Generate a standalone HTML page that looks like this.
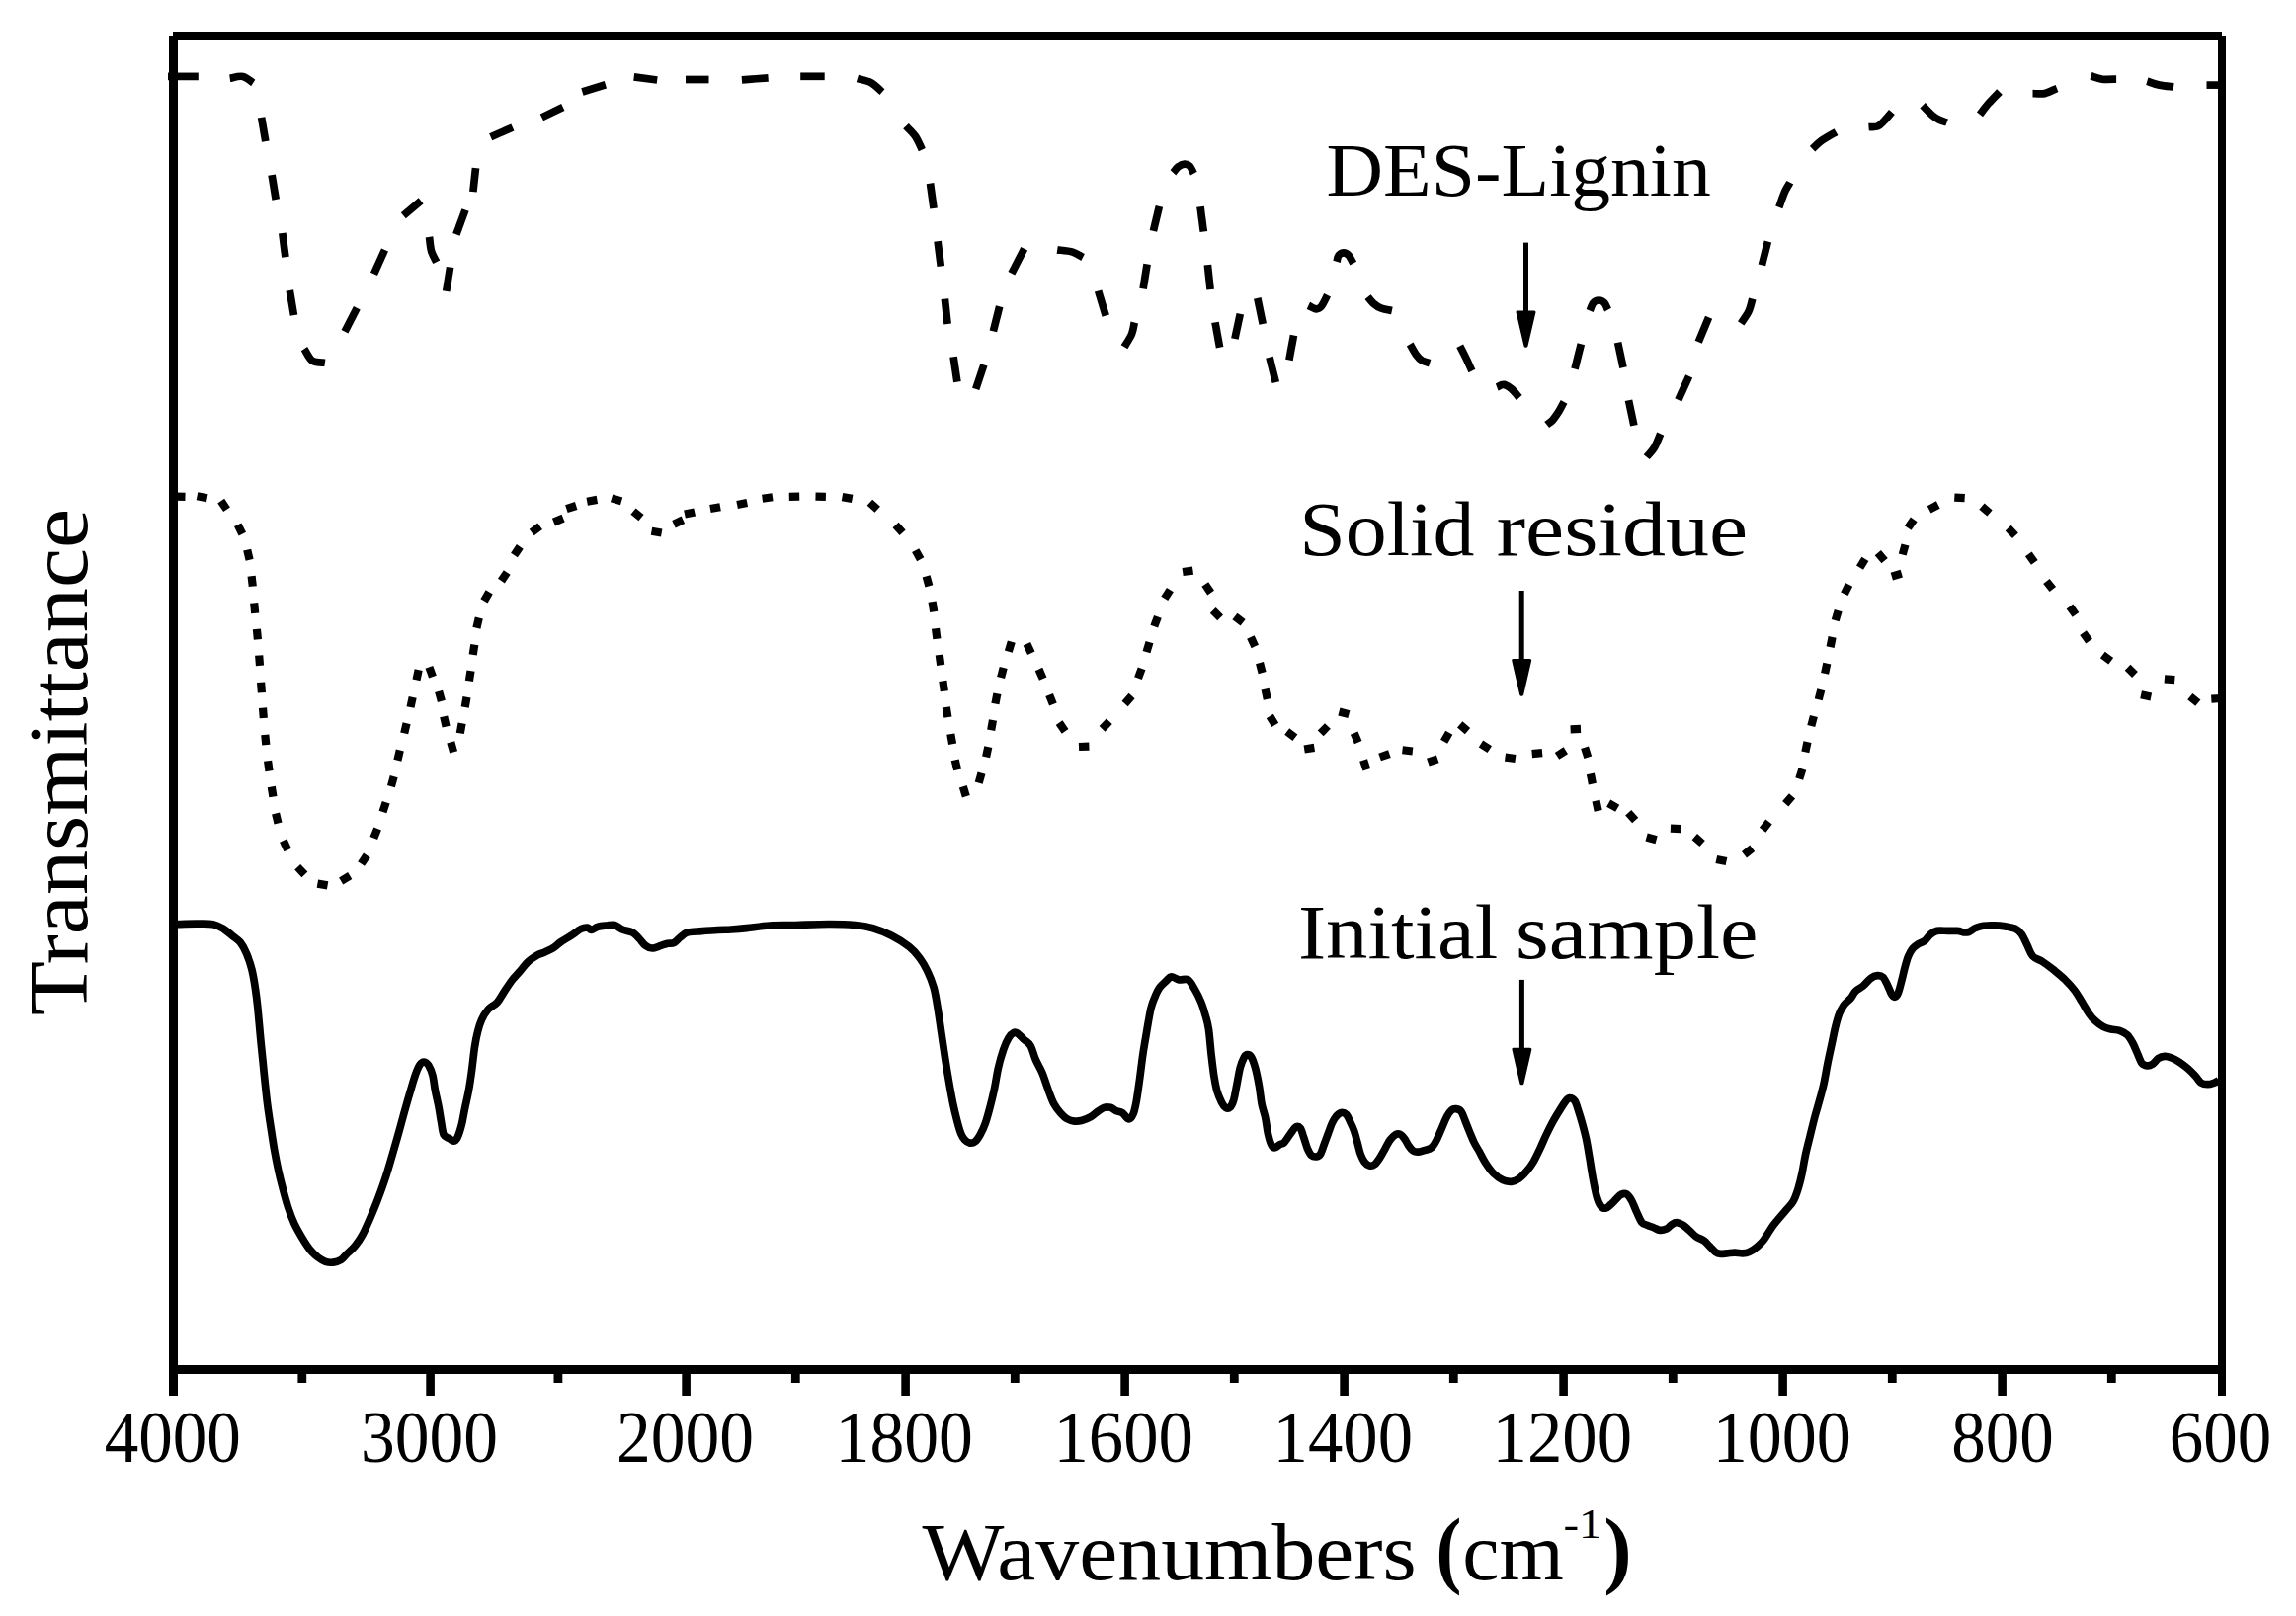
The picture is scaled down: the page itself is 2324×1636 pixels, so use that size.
<!DOCTYPE html>
<html lang="en"><head><meta charset="utf-8"><title>FTIR spectra</title>
<style>html,body{margin:0;padding:0;background:#fff}svg{display:block}text{font-family:"Liberation Serif",serif;fill:#000}</style>
</head><body>
<svg width="2324" height="1636" viewBox="0 0 2324 1636">
<rect width="2324" height="1636" fill="#fff"/>
<g fill="#000" shape-rendering="crispEdges">
<rect x="175" y="32" width="2074" height="9"/>
<rect x="171" y="1382" width="2082" height="9"/>
<rect x="171" y="36" width="9" height="1377"/>
<rect x="2245" y="36" width="8" height="1377"/>
</g>
<g fill="#000">
<rect x="431.3" y="1390" width="8.6" height="23"/>
<rect x="690.3" y="1390" width="8.6" height="23"/>
<rect x="912.3" y="1390" width="8.6" height="23"/>
<rect x="1134.3" y="1390" width="8.6" height="23"/>
<rect x="1356.3" y="1390" width="8.6" height="23"/>
<rect x="1578.3" y="1390" width="8.6" height="23"/>
<rect x="1800.3" y="1390" width="8.6" height="23"/>
<rect x="2022.3" y="1390" width="8.6" height="23"/>
<rect x="301.4" y="1390" width="8.8" height="10"/>
<rect x="560.5" y="1390" width="8.8" height="10"/>
<rect x="800.9" y="1390" width="8.8" height="10"/>
<rect x="1022.9" y="1390" width="8.8" height="10"/>
<rect x="1244.9" y="1390" width="8.8" height="10"/>
<rect x="1466.9" y="1390" width="8.8" height="10"/>
<rect x="1688.9" y="1390" width="8.8" height="10"/>
<rect x="1910.9" y="1390" width="8.8" height="10"/>
<rect x="2132.9" y="1390" width="8.8" height="10"/>
</g>
<path d="M179.7,935.7C182.9,935.6 192.7,935.2 198.7,935.2C204.7,935.2 211.1,934.8 215.7,935.7C220.3,936.6 222.9,938.4 226.2,940.4C229.5,942.4 232.5,945.2 235.3,947.5C238.1,949.8 240.8,951.0 243.2,954.0C245.6,957.0 247.8,961.2 249.7,965.8C251.6,970.4 253.5,975.8 254.9,981.5C256.3,987.2 257.3,993.3 258.3,999.8C259.3,1006.3 260.1,1012.9 260.9,1020.7C261.7,1028.5 262.5,1038.1 263.3,1046.8C264.1,1055.5 265.1,1065.1 265.9,1072.9C266.7,1080.7 267.2,1086.4 268.0,1093.8C268.8,1101.2 269.6,1109.6 270.6,1117.4C271.6,1125.2 272.8,1133.1 274.0,1140.9C275.2,1148.7 276.4,1157.0 277.7,1164.4C279.0,1171.8 280.4,1178.8 281.8,1185.3C283.2,1191.8 284.7,1197.5 286.3,1203.6C287.9,1209.7 289.6,1216.0 291.5,1221.9C293.4,1227.8 295.6,1233.7 298.0,1238.9C300.4,1244.1 303.3,1248.9 305.9,1253.2C308.5,1257.5 311.1,1261.7 313.7,1265.0C316.3,1268.3 319.0,1270.8 321.6,1272.8C324.2,1274.8 326.8,1276.4 329.4,1277.3C332.0,1278.2 334.6,1278.4 337.2,1278.1C339.8,1277.8 342.7,1277.0 345.1,1275.5C347.5,1274.0 349.2,1271.3 351.6,1268.9C354.0,1266.5 356.9,1264.4 359.5,1261.1C362.1,1257.8 364.7,1254.1 367.3,1249.3C369.9,1244.5 372.5,1238.4 375.1,1232.3C377.7,1226.2 380.4,1219.7 383.0,1212.7C385.6,1205.7 388.4,1197.9 390.8,1190.5C393.2,1183.1 395.3,1175.5 397.4,1168.3C399.5,1161.1 401.4,1154.4 403.4,1147.4C405.3,1140.4 407.2,1133.5 409.1,1126.5C411.1,1119.5 413.2,1111.9 415.1,1105.6C417.0,1099.3 418.7,1093.2 420.3,1088.6C421.9,1084.0 423.3,1080.5 424.8,1078.2C426.3,1075.9 427.7,1074.9 429.2,1075.0C430.7,1075.1 432.4,1076.4 433.9,1078.7C435.3,1081.0 436.8,1084.3 437.9,1088.6C439.0,1092.9 439.5,1099.1 440.5,1104.3C441.5,1109.5 442.9,1114.8 443.9,1120.0C444.9,1125.2 445.6,1130.8 446.5,1135.6C447.4,1140.4 447.7,1145.9 449.1,1148.7C450.5,1151.5 453.1,1151.5 454.8,1152.6C456.5,1153.7 457.9,1155.4 459.3,1155.2C460.7,1155.0 461.9,1154.1 463.2,1151.3C464.5,1148.5 466.2,1143.1 467.4,1138.3C468.6,1133.5 469.3,1128.3 470.5,1122.6C471.7,1116.9 473.2,1110.8 474.4,1104.3C475.6,1097.8 476.6,1090.8 477.6,1083.4C478.6,1076.0 479.5,1066.4 480.5,1059.9C481.5,1053.4 482.4,1048.8 483.6,1044.2C484.8,1039.6 485.8,1036.1 487.5,1032.4C489.2,1028.7 491.4,1024.9 494.0,1022.0C496.6,1019.1 500.6,1017.7 503.2,1014.9C505.8,1012.1 507.3,1008.6 509.7,1005.0C512.1,1001.4 514.8,996.9 517.6,993.2C520.4,989.5 523.9,986.1 526.7,982.8C529.5,979.5 531.7,976.2 534.5,973.6C537.3,971.0 540.9,968.7 543.7,967.1C546.5,965.5 548.7,965.3 551.5,964.0C554.3,962.7 558.1,961.0 560.7,959.3C563.3,957.6 564.4,956.0 567.2,954.0C570.0,952.0 574.2,949.8 577.7,947.5C581.2,945.2 585.3,941.8 588.1,940.4C590.9,939.0 593.0,938.9 594.7,939.1C596.5,939.3 596.9,941.6 598.6,941.5C600.3,941.4 602.5,939.0 605.1,938.3C607.7,937.5 611.5,937.3 614.3,937.0C617.1,936.7 619.5,935.8 622.1,936.5C624.7,937.2 626.9,939.7 629.9,941.0C632.9,942.3 637.6,942.6 640.4,944.1C643.2,945.6 644.7,947.9 646.9,950.1C649.1,952.3 651.2,955.8 653.4,957.4C655.6,959.0 657.4,960.0 660.0,960.0C662.6,960.0 666.5,958.2 669.1,957.4C671.7,956.6 673.5,955.8 675.7,955.3C677.9,954.8 680.0,955.6 682.2,954.5C684.4,953.4 686.5,950.5 688.7,948.8C690.9,947.1 692.5,945.1 695.3,944.1C698.1,943.1 700.5,943.4 705.7,943.0C710.9,942.6 720.9,941.8 726.6,941.5C732.3,941.2 735.1,941.3 740.0,941.0C744.9,940.7 749.2,940.4 755.7,939.7C762.2,939.0 770.9,937.5 779.2,937.0C787.5,936.5 795.3,936.8 805.3,936.5C815.3,936.2 829.3,935.5 839.3,935.5C849.3,935.5 858.0,935.8 865.4,936.5C872.8,937.2 877.6,938.0 883.7,939.7C889.8,941.5 895.9,943.9 902.0,947.0C908.1,950.1 915.5,954.7 920.3,958.5C925.1,962.3 927.8,965.7 930.8,969.7C933.8,973.8 936.2,977.8 938.6,982.8C941.0,987.8 943.4,993.5 945.1,999.8C946.9,1006.1 947.8,1012.9 949.1,1020.7C950.4,1028.5 951.7,1038.1 953.0,1046.8C954.3,1055.5 955.6,1064.6 956.9,1072.9C958.2,1081.2 959.5,1089.0 960.8,1096.4C962.1,1103.8 963.4,1111.1 964.7,1117.4C966.0,1123.7 967.4,1129.3 968.7,1134.3C970.0,1139.3 971.3,1144.1 972.6,1147.4C973.9,1150.7 975.0,1152.3 976.5,1153.9C978.0,1155.5 980.0,1156.8 981.7,1157.1C983.5,1157.4 985.2,1157.2 987.0,1155.8C988.8,1154.4 990.5,1151.8 992.2,1148.7C993.9,1145.6 995.7,1142.0 997.4,1137.0C999.1,1132.0 1001.1,1124.6 1002.6,1118.7C1004.1,1112.8 1005.3,1108.0 1006.6,1101.7C1007.9,1095.4 1009.0,1087.3 1010.5,1080.8C1012.0,1074.3 1014.0,1067.5 1015.7,1062.5C1017.4,1057.5 1019.2,1053.5 1020.9,1050.7C1022.6,1047.9 1024.6,1046.2 1026.1,1045.5C1027.6,1044.8 1028.3,1045.1 1030.1,1046.3C1031.8,1047.5 1034.4,1050.5 1036.6,1052.5C1038.8,1054.5 1041.1,1055.2 1043.1,1058.6C1045.1,1062.0 1046.4,1068.3 1048.4,1072.9C1050.4,1077.5 1052.7,1080.8 1054.9,1086.0C1057.1,1091.2 1059.4,1099.1 1061.4,1104.3C1063.4,1109.5 1064.7,1113.7 1066.7,1117.4C1068.7,1121.1 1071.0,1124.0 1073.2,1126.5C1075.4,1129.0 1077.3,1131.1 1079.7,1132.5C1082.1,1133.9 1085.0,1134.8 1087.6,1135.1C1090.2,1135.4 1092.6,1135.1 1095.4,1134.3C1098.2,1133.5 1101.9,1131.9 1104.5,1130.4C1107.1,1128.9 1108.9,1126.7 1111.1,1125.2C1113.3,1123.7 1115.4,1122.0 1117.6,1121.3C1119.8,1120.6 1122.1,1120.8 1124.1,1121.3C1126.1,1121.8 1127.4,1123.5 1129.4,1124.4C1131.4,1125.3 1133.7,1125.1 1135.9,1126.5C1138.1,1127.9 1140.5,1132.8 1142.4,1133.0C1144.3,1133.2 1145.8,1130.8 1147.1,1127.8C1148.4,1124.8 1149.2,1120.4 1150.3,1114.7C1151.3,1109.0 1152.3,1101.6 1153.4,1093.8C1154.5,1086.0 1155.6,1076.0 1156.8,1067.7C1158.0,1059.4 1159.4,1051.8 1160.7,1044.2C1162.0,1036.6 1163.4,1027.7 1164.7,1022.0C1166.0,1016.3 1167.1,1013.9 1168.6,1010.2C1170.1,1006.5 1171.8,1002.6 1173.8,999.8C1175.8,997.0 1178.3,995.0 1180.3,993.2C1182.3,991.4 1183.4,989.0 1185.6,988.8C1187.8,988.6 1190.6,991.4 1193.4,991.9C1196.2,992.4 1199.9,990.4 1202.5,991.9C1205.1,993.4 1206.9,997.4 1209.1,1001.1C1211.3,1004.8 1213.7,1009.5 1215.6,1014.1C1217.5,1018.7 1219.0,1023.9 1220.3,1028.5C1221.6,1033.1 1222.4,1035.1 1223.4,1041.6C1224.4,1048.1 1225.2,1059.9 1226.1,1067.7C1227.0,1075.5 1227.8,1082.5 1228.7,1088.6C1229.7,1094.7 1230.5,1099.7 1231.8,1104.3C1233.1,1108.9 1235.1,1113.2 1236.5,1116.0C1237.9,1118.8 1239.0,1120.4 1240.4,1121.3C1241.8,1122.2 1243.5,1122.6 1244.9,1121.3C1246.3,1120.0 1247.6,1117.6 1248.8,1113.4C1250.0,1109.2 1251.1,1101.8 1252.2,1096.4C1253.3,1091.0 1254.1,1085.2 1255.3,1080.8C1256.5,1076.4 1258.1,1072.5 1259.3,1070.3C1260.5,1068.1 1261.4,1067.7 1262.6,1067.7C1263.8,1067.7 1265.3,1068.1 1266.6,1070.3C1267.9,1072.5 1269.2,1076.0 1270.5,1080.8C1271.8,1085.6 1273.3,1093.0 1274.4,1099.1C1275.5,1105.2 1276.0,1112.0 1277.0,1117.4C1278.0,1122.8 1279.7,1126.5 1280.7,1131.5C1281.8,1136.5 1282.3,1142.6 1283.3,1147.1C1284.3,1151.6 1285.5,1156.1 1286.7,1158.6C1287.9,1161.1 1288.8,1162.0 1290.3,1162.0C1291.8,1162.0 1294.0,1159.5 1295.6,1158.6C1297.2,1157.7 1298.2,1158.5 1300.0,1156.6C1301.8,1154.7 1304.5,1150.0 1306.5,1147.4C1308.5,1144.8 1310.2,1141.8 1311.8,1140.9C1313.4,1140.0 1314.9,1140.5 1316.2,1142.2C1317.5,1143.9 1318.4,1147.8 1319.6,1151.3C1320.8,1154.8 1322.2,1160.0 1323.5,1163.1C1324.8,1166.1 1325.9,1168.3 1327.4,1169.6C1328.9,1170.9 1331.2,1171.1 1332.7,1170.9C1334.2,1170.7 1335.3,1170.5 1336.6,1168.3C1337.9,1166.1 1339.2,1161.4 1340.5,1157.9C1341.8,1154.4 1343.1,1150.9 1344.4,1147.4C1345.7,1143.9 1347.0,1139.8 1348.3,1137.0C1349.6,1134.2 1350.8,1132.2 1352.3,1130.4C1353.8,1128.7 1355.8,1126.8 1357.5,1126.5C1359.2,1126.2 1361.2,1126.8 1362.7,1128.3C1364.2,1129.8 1365.3,1132.8 1366.6,1135.6C1367.9,1138.3 1369.4,1141.3 1370.6,1144.8C1371.8,1148.3 1372.9,1152.7 1374.0,1156.6C1375.1,1160.5 1375.9,1165.0 1377.1,1168.3C1378.3,1171.5 1379.5,1174.1 1381.0,1176.1C1382.5,1178.1 1384.5,1179.6 1386.2,1180.1C1388.0,1180.5 1389.8,1180.1 1391.5,1178.8C1393.2,1177.5 1395.0,1174.8 1396.7,1172.2C1398.4,1169.6 1400.2,1166.1 1401.9,1163.1C1403.6,1160.0 1405.3,1156.3 1407.1,1153.9C1408.8,1151.5 1410.7,1149.7 1412.4,1148.7C1414.1,1147.8 1415.6,1147.6 1417.1,1148.2C1418.6,1148.8 1420.1,1150.8 1421.5,1152.6C1422.9,1154.4 1424.0,1157.2 1425.4,1159.2C1426.8,1161.2 1428.3,1163.7 1430.1,1164.9C1431.8,1166.1 1433.9,1166.3 1435.9,1166.2C1438.0,1166.1 1440.2,1165.1 1442.4,1164.4C1444.6,1163.7 1447.0,1163.5 1449.0,1161.8C1451.0,1160.0 1452.5,1157.2 1454.2,1153.9C1455.9,1150.6 1457.7,1146.1 1459.4,1142.2C1461.1,1138.3 1462.9,1133.5 1464.6,1130.4C1466.2,1127.4 1467.8,1125.2 1469.3,1123.9C1470.8,1122.6 1472.2,1122.4 1473.8,1122.6C1475.4,1122.8 1477.5,1123.2 1479.0,1125.2C1480.5,1127.2 1481.5,1130.8 1482.9,1134.3C1484.3,1137.8 1486.1,1142.4 1487.6,1146.1C1489.1,1149.8 1490.5,1153.3 1492.1,1156.6C1493.7,1159.9 1495.3,1162.2 1497.3,1165.7C1499.2,1169.2 1501.4,1173.8 1503.8,1177.5C1506.2,1181.2 1508.9,1185.1 1511.7,1187.9C1514.5,1190.7 1517.8,1193.0 1520.8,1194.4C1523.8,1195.8 1527.2,1196.5 1530.0,1196.3C1532.8,1196.1 1535.2,1194.9 1537.8,1193.1C1540.4,1191.3 1543.2,1188.1 1545.6,1185.3C1548.0,1182.5 1550.0,1179.8 1552.2,1176.1C1554.4,1172.4 1556.5,1167.7 1558.7,1163.1C1560.9,1158.5 1563.0,1153.3 1565.2,1148.7C1567.4,1144.1 1569.4,1139.9 1571.8,1135.6C1574.2,1131.2 1577.4,1126.1 1579.6,1122.6C1581.8,1119.1 1583.3,1116.5 1584.8,1114.7C1586.3,1112.9 1587.3,1111.6 1588.8,1111.6C1590.3,1111.6 1592.5,1112.4 1594.0,1114.7C1595.5,1117.0 1596.6,1121.3 1597.9,1125.2C1599.2,1129.1 1600.5,1133.5 1601.8,1138.3C1603.1,1143.1 1604.5,1148.2 1605.7,1153.9C1606.9,1159.6 1607.8,1165.7 1608.9,1172.2C1610.0,1178.7 1611.1,1186.6 1612.3,1193.1C1613.5,1199.6 1614.9,1206.8 1616.2,1211.4C1617.5,1216.0 1618.6,1218.6 1620.1,1220.6C1621.6,1222.6 1623.5,1223.4 1625.3,1223.2C1627.0,1223.0 1628.8,1220.8 1630.6,1219.3C1632.3,1217.8 1634.1,1215.7 1635.8,1214.0C1637.5,1212.3 1639.2,1210.2 1641.0,1209.3C1642.8,1208.4 1644.5,1207.8 1646.3,1208.8C1648.0,1209.8 1649.8,1212.2 1651.5,1215.3C1653.2,1218.3 1655.0,1223.4 1656.7,1227.1C1658.4,1230.8 1660.2,1235.4 1661.9,1237.6C1663.7,1239.8 1665.2,1239.3 1667.2,1240.2C1669.2,1241.1 1671.5,1241.9 1673.7,1242.8C1675.9,1243.7 1678.0,1245.2 1680.2,1245.4C1682.4,1245.6 1684.8,1245.0 1686.8,1244.1C1688.8,1243.1 1690.3,1240.8 1692.0,1239.7C1693.7,1238.6 1695.2,1237.5 1697.2,1237.6C1699.2,1237.7 1701.5,1238.8 1703.7,1240.2C1705.9,1241.6 1708.1,1244.0 1710.3,1245.9C1712.5,1247.9 1714.4,1250.2 1716.8,1251.9C1719.2,1253.6 1722.3,1254.2 1724.7,1255.9C1727.1,1257.7 1729.2,1260.5 1731.2,1262.4C1733.2,1264.4 1734.7,1266.4 1736.4,1267.6C1738.1,1268.8 1739.6,1269.2 1741.6,1269.4C1743.6,1269.6 1745.8,1269.1 1748.2,1268.9C1750.6,1268.7 1753.4,1268.1 1756.0,1268.1C1758.6,1268.1 1761.5,1269.0 1763.9,1268.9C1766.3,1268.8 1768.0,1268.7 1770.4,1267.6C1772.8,1266.5 1775.8,1264.4 1778.2,1262.4C1780.6,1260.5 1782.8,1258.3 1784.8,1255.9C1786.8,1253.5 1788.3,1250.6 1790.0,1248.0C1791.7,1245.4 1793.2,1242.8 1795.2,1240.2C1797.2,1237.6 1799.5,1234.9 1801.7,1232.3C1803.9,1229.7 1806.1,1227.1 1808.3,1224.5C1810.5,1221.9 1812.8,1220.2 1814.8,1216.7C1816.8,1213.2 1818.5,1208.4 1820.0,1203.6C1821.5,1198.8 1822.8,1193.6 1824.0,1187.9C1825.2,1182.2 1826.1,1175.7 1827.4,1169.6C1828.7,1163.5 1830.2,1157.8 1831.8,1151.3C1833.4,1144.8 1835.3,1136.9 1837.0,1130.4C1838.7,1123.9 1840.7,1117.8 1842.2,1112.1C1843.7,1106.4 1844.9,1102.5 1846.2,1096.4C1847.5,1090.3 1848.8,1082.0 1850.1,1075.5C1851.4,1069.0 1852.7,1063.3 1854.0,1057.2C1855.3,1051.1 1856.6,1044.2 1857.9,1039.0C1859.2,1033.8 1860.3,1029.6 1861.8,1025.9C1863.3,1022.2 1865.1,1019.3 1867.1,1016.7C1869.1,1014.1 1871.8,1012.4 1873.6,1010.2C1875.4,1008.0 1876.0,1005.6 1878.1,1003.6C1880.1,1001.6 1883.3,1000.3 1885.9,998.1C1888.5,995.9 1891.3,992.0 1893.7,990.3C1896.1,988.5 1898.4,987.8 1900.4,987.6C1902.4,987.4 1904.2,987.6 1905.9,989.2C1907.6,990.8 1908.9,994.0 1910.4,997.0C1911.9,1000.0 1913.6,1005.0 1914.9,1007.0C1916.2,1009.0 1917.1,1009.6 1918.2,1009.2C1919.3,1008.8 1920.4,1007.6 1921.5,1004.8C1922.6,1002.0 1923.8,996.8 1924.9,992.5C1926.0,988.2 1927.1,983.2 1928.2,979.1C1929.3,975.0 1930.3,971.1 1931.6,968.0C1932.9,964.9 1934.3,962.2 1936.0,960.2C1937.7,958.2 1939.5,957.0 1941.6,955.7C1943.6,954.4 1946.2,954.0 1948.3,952.4C1950.3,950.8 1951.9,947.8 1953.9,946.1C1955.9,944.4 1957.5,943.0 1960.5,942.4C1963.5,941.8 1968.2,942.4 1971.7,942.4C1975.2,942.4 1979.1,942.1 1981.7,942.4C1984.3,942.6 1985.5,943.7 1987.3,943.9C1989.1,944.1 1990.8,944.2 1992.8,943.5C1994.8,942.8 1997.1,940.5 1999.5,939.5C2001.9,938.5 2004.1,937.7 2007.3,937.2C2010.5,936.8 2014.8,936.7 2018.5,936.8C2022.2,936.9 2026.1,937.3 2029.6,937.9C2033.1,938.5 2036.8,938.8 2039.6,940.1C2042.4,941.4 2044.2,942.9 2046.3,945.7C2048.3,948.5 2050.0,953.1 2051.9,956.8C2053.8,960.5 2054.9,965.2 2057.5,968.0C2060.1,970.8 2064.0,971.3 2067.5,973.6C2071.0,975.9 2074.9,978.8 2078.6,981.8C2082.3,984.8 2086.3,987.9 2089.8,991.4C2093.3,994.9 2096.8,998.6 2099.8,1002.5C2102.8,1006.4 2105.2,1010.9 2107.6,1014.8C2110.0,1018.7 2112.1,1022.8 2114.3,1025.9C2116.5,1029.1 2118.6,1031.5 2121.0,1033.7C2123.4,1035.9 2126.2,1037.9 2128.8,1039.3C2131.4,1040.7 2133.8,1041.3 2136.6,1042.0C2139.4,1042.7 2142.7,1042.3 2145.5,1043.3C2148.3,1044.3 2151.1,1045.7 2153.3,1047.8C2155.5,1049.9 2157.1,1053.0 2158.8,1056.0C2160.5,1059.0 2161.8,1062.7 2163.3,1066.0C2164.8,1069.3 2166.1,1073.9 2167.8,1076.1C2169.5,1078.2 2171.5,1078.7 2173.3,1078.9C2175.2,1079.1 2177.0,1078.4 2178.9,1077.2C2180.8,1076.0 2182.5,1072.9 2184.5,1071.6C2186.5,1070.3 2188.9,1069.5 2191.1,1069.4C2193.3,1069.3 2195.4,1070.0 2197.8,1070.9C2200.2,1071.8 2202.8,1073.1 2205.6,1074.9C2208.4,1076.7 2211.7,1079.2 2214.5,1081.6C2217.3,1084.0 2220.1,1087.0 2222.3,1089.4C2224.5,1091.8 2225.9,1094.7 2227.9,1096.1C2229.9,1097.5 2232.4,1097.7 2234.6,1097.7C2236.8,1097.7 2239.5,1096.7 2241.3,1096.1C2243.2,1095.5 2245.0,1094.3 2245.7,1093.9" fill="none" stroke="#000" stroke-width="7.7" stroke-linejoin="round"/>
<g fill="none" stroke="#000" stroke-width="7.7" stroke-linejoin="round">
<path d="M170.0,77.4L200.8,77.4"/>
<path d="M232.7,79.2C234.9,78.9 241.9,76.6 245.8,77.4C249.7,78.2 254.5,82.8 256.2,83.9"/>
<path d="M264.6,118.9L268.8,143.2"/>
<path d="M275.1,177.2L279.2,202.0"/>
<path d="M285.8,236.0L288.9,260.3"/>
<path d="M293.3,294.0L297.5,319.1"/>
<path d="M308.0,353.1C309.4,355.1 312.8,363.0 316.3,365.3C319.8,367.6 326.8,366.9 328.9,367.2"/>
<path d="M349.0,335.8L361.3,311.8"/>
<path d="M378.5,277.3L389.5,253.0"/>
<path d="M408.3,218.2L426.1,203.3"/>
<path d="M434.5,239.9C434.9,242.3 435.4,250.1 436.6,254.3C437.8,258.5 440.9,263.5 441.8,265.3"/>
<path d="M451.7,294.8L455.6,270.5"/>
<path d="M461.9,237.3L471.0,212.5"/>
<path d="M478.9,194.2L481.5,170.1"/>
<path d="M496.7,138.8L518.9,128.9"/>
<path d="M548.4,118.9L569.8,108.5"/>
<path d="M589.4,93.0L612.9,85.7"/>
<path d="M641.7,77.9L665.2,81.0"/>
<path d="M694.0,80.5L717.5,80.5"/>
<path d="M750.9,80.8L777.6,78.9"/>
<path d="M810.2,77.3L834.7,77.3"/>
<path d="M867.9,79.5C870.2,80.2 877.4,81.3 881.6,83.6C885.8,85.9 891.1,91.5 893.0,93.1"/>
<path d="M917.0,127.7C918.6,129.4 923.8,134.0 926.5,138.0C929.2,142.0 932.2,149.3 933.3,151.6"/>
<path d="M941.5,185.6L945.0,211.0"/>
<path d="M949.1,244.2L952.3,269.5"/>
<path d="M956.4,302.7L959.1,328.0"/>
<path d="M965.1,361.2L968.9,386.6"/>
<path d="M987.7,393.9L995.9,369.4"/>
<path d="M1005.4,335.4L1011.7,310.3"/>
<path d="M1023.9,276.8L1036.7,251.8"/>
<path d="M1070.2,252.9C1072.8,253.3 1081.4,253.8 1085.7,255.1C1090.0,256.4 1094.4,259.6 1096.1,260.5"/>
<path d="M1111.6,294.5L1119.2,319.6"/>
<path d="M1138.0,351.2C1139.3,349.0 1143.9,342.2 1145.6,338.1C1147.3,334.0 1147.8,328.3 1148.3,326.4"/>
<path d="M1157.1,292.4L1161.1,267.3"/>
<path d="M1167.4,233.8L1173.4,208.8"/>
<path d="M1187.5,174.8C1188.4,173.8 1190.8,170.1 1192.7,168.7C1194.6,167.2 1196.9,166.2 1198.8,166.1C1200.7,166.0 1202.4,166.3 1204.0,167.9C1205.6,169.5 1207.7,174.4 1208.4,175.7"/>
<path d="M1215.0,209.3L1218.3,234.4"/>
<path d="M1222.4,268.1L1225.1,293.2"/>
<path d="M1230.0,326.4L1234.6,351.7"/>
<path d="M1249.9,343.0L1255.3,317.7"/>
<path d="M1272.8,301.9L1278.2,328.0"/>
<path d="M1285.0,361.8L1291.3,387.1"/>
<path d="M1304.9,364.5L1309.5,339.5"/>
<path d="M1324.4,309.3C1325.7,309.9 1330.0,312.7 1332.2,312.8C1334.4,312.9 1335.6,312.4 1337.5,310.1C1339.4,307.8 1342.6,300.7 1343.6,298.8"/>
<path d="M1353.1,264.8C1353.4,263.8 1353.7,260.2 1354.9,258.7C1356.1,257.2 1358.4,255.8 1360.1,255.8C1361.8,255.8 1363.7,256.9 1365.3,258.7C1366.9,260.5 1369.0,265.3 1369.7,266.6"/>
<path d="M1384.5,300.6C1385.5,301.8 1388.4,305.6 1390.6,307.5C1392.8,309.4 1394.5,310.7 1397.6,311.9C1400.6,313.1 1407.0,314.1 1408.9,314.5"/>
<path d="M1427.2,348.5C1428.2,350.2 1431.3,356.1 1433.3,358.9C1435.3,361.6 1437.1,363.6 1439.4,365.0C1441.7,366.4 1445.9,367.2 1447.2,367.6"/>
<path d="M1477.7,350.2C1478.9,352.5 1482.7,359.9 1484.7,364.1C1486.7,368.3 1489.0,373.6 1489.9,375.5"/>
<path d="M1515.2,392.0C1516.3,391.6 1519.6,389.1 1522.1,389.4C1524.6,389.7 1527.4,391.6 1530.0,393.8C1532.6,396.0 1536.5,401.1 1537.8,402.5"/>
<path d="M1565.7,430.0C1566.7,429.2 1569.8,427.4 1571.8,425.1C1573.8,422.8 1576.0,419.4 1577.9,416.4C1579.8,413.3 1582.2,408.4 1583.1,406.8"/>
<path d="M1594.0,373.5L1600.3,348.2"/>
<path d="M1609.2,314.5C1609.8,313.2 1611.2,308.4 1612.7,306.7C1614.2,304.9 1616.6,304.0 1618.5,304.0C1620.4,304.0 1622.5,305.1 1624.0,306.7C1625.5,308.3 1626.9,312.5 1627.5,313.6"/>
<path d="M1637.6,346.8L1643.0,372.1"/>
<path d="M1648.5,405.3L1653.9,430.7"/>
<path d="M1666.7,462.6C1668.0,461.0 1672.3,456.9 1674.6,453.0C1676.9,449.1 1679.7,441.4 1680.7,439.1"/>
<path d="M1698.8,404.8L1709.7,380.8"/>
<path d="M1719.2,346.3L1729.6,321.2"/>
<path d="M1762.2,327.4C1763.5,325.4 1768.1,319.3 1770.0,315.2C1771.9,311.1 1773.2,304.6 1773.8,302.5"/>
<path d="M1783.4,268.4L1789.4,244.5"/>
<path d="M1800.8,209.8C1801.8,207.1 1804.9,197.9 1806.8,193.7C1808.7,189.5 1811.1,186.3 1811.9,184.8"/>
<path d="M1834.6,150.7C1836.1,149.3 1839.6,145.3 1843.6,142.5C1847.6,139.7 1856.0,135.1 1858.5,133.6"/>
<path d="M1891.5,128.5C1893.0,128.4 1897.8,129.0 1900.4,128.0C1903.0,127.0 1904.7,124.8 1907.1,122.4C1909.5,120.0 1913.6,115.0 1914.9,113.5"/>
<path d="M1946.1,106.8C1947.8,108.5 1953.3,114.5 1956.1,116.9C1958.9,119.3 1960.4,120.1 1962.8,121.3C1965.2,122.5 1969.3,123.5 1970.6,124.0"/>
<path d="M2004.0,115.8C2005.5,113.9 2009.6,108.4 2012.9,104.6C2016.2,100.8 2022.2,94.9 2024.0,93.0"/>
<path d="M2057.5,94.6C2059.5,94.6 2065.6,95.4 2069.7,94.6C2073.8,93.8 2079.9,90.3 2082.0,89.5"/>
<path d="M2116.5,76.8C2118.3,77.3 2123.3,79.5 2127.6,80.1C2131.9,80.6 2139.7,80.1 2142.1,80.1"/>
<path d="M2173.3,82.3C2175.4,82.9 2181.1,85.2 2185.6,86.1C2190.1,87.0 2197.7,87.6 2200.1,87.9"/>
<path d="M2233.5,86.1L2245.7,86.1"/>
</g>
<g fill="none" stroke="#000" stroke-width="8.2">
<path d="M177.1,502.6L187.5,502.8"/>
<path d="M199.5,502.2L209.7,504.2"/>
<path d="M223.7,507.1L229.5,515.7"/>
<path d="M240.7,531.2L245.3,540.6"/>
<path d="M250.2,556.6L252.6,566.8"/>
<path d="M254.6,583.2L255.8,593.6"/>
<path d="M257.2,610.4L258.2,620.8"/>
<path d="M259.9,636.9L260.9,647.3"/>
<path d="M262.2,663.5L263.0,673.9"/>
<path d="M264.1,690.8L264.9,701.2"/>
<path d="M266.0,716.6L266.8,727.0"/>
<path d="M268.3,743.8L269.3,754.2"/>
<path d="M271.1,770.2L272.5,780.6"/>
<path d="M274.8,796.5L276.4,806.7"/>
<path d="M279.1,823.5L281.5,833.5"/>
<path d="M286.8,851.1L291.2,860.5"/>
<path d="M301.2,877.8L308.4,885.4"/>
<path d="M321.4,894.6L331.6,896.4"/>
<path d="M345.2,891.9L354.2,886.5"/>
<path d="M365.6,874.5L371.4,865.9"/>
<path d="M378.3,848.6L382.1,839.0"/>
<path d="M387.5,822.0L390.7,812.2"/>
<path d="M395.9,796.2L398.7,786.2"/>
<path d="M402.4,769.7L404.8,759.5"/>
<path d="M409.2,742.4L411.6,732.2"/>
<path d="M415.5,716.0L417.7,705.8"/>
<path d="M421.5,688.3L423.7,678.1"/>
<path d="M434.4,675.3L438.0,685.1"/>
<path d="M444.1,699.9L446.9,709.9"/>
<path d="M449.2,725.4L451.6,735.6"/>
<path d="M456.3,751.4L459.1,761.4"/>
<path d="M465.8,742.4L467.6,732.2"/>
<path d="M470.7,716.0L472.5,705.8"/>
<path d="M474.9,689.3L476.5,679.1"/>
<path d="M478.7,662.9L480.3,652.7"/>
<path d="M482.4,635.7L484.8,625.5"/>
<path d="M490.0,608.4L495.2,599.4"/>
<path d="M507.4,588.1L513.2,579.5"/>
<path d="M520.5,562.0L526.3,553.4"/>
<path d="M538.2,539.0L546.6,532.8"/>
<path d="M560.5,528.6L570.1,524.6"/>
<path d="M573.4,515.2L583.2,512.0"/>
<path d="M594.2,507.7L604.4,505.9"/>
<path d="M619.1,504.4L629.1,507.4"/>
<path d="M641.0,517.6L649.0,524.2"/>
<path d="M659.5,537.7L669.7,539.5"/>
<path d="M682.0,530.7L691.4,526.3"/>
<path d="M693.0,520.6L703.2,518.4"/>
<path d="M718.9,515.0L729.1,513.2"/>
<path d="M746.1,511.0L756.3,509.0"/>
<path d="M771.6,504.7L782.0,503.3"/>
<path d="M798.8,502.8L809.2,502.6"/>
<path d="M825.5,502.6L835.9,502.8"/>
<path d="M852.5,503.1L862.7,504.9"/>
<path d="M880.4,508.7L888.2,515.7"/>
<path d="M906.6,531.4L913.6,539.2"/>
<path d="M926.7,557.1L931.7,566.3"/>
<path d="M937.6,583.4L940.4,593.4"/>
<path d="M943.6,609.2L945.2,619.4"/>
<path d="M947.0,636.3L948.4,646.7"/>
<path d="M950.8,663.0L952.2,673.4"/>
<path d="M954.4,689.4L955.8,699.8"/>
<path d="M957.8,715.9L959.4,726.1"/>
<path d="M962.3,743.1L964.1,753.3"/>
<path d="M966.7,769.4L969.1,779.4"/>
<path d="M974.8,796.3L977.8,806.3"/>
<path d="M990.7,792.7L993.5,782.7"/>
<path d="M998.1,766.4L1000.3,756.2"/>
<path d="M1003.2,739.2L1005.0,729.0"/>
<path d="M1007.4,712.5L1009.4,702.3"/>
<path d="M1013.1,686.0L1015.7,676.0"/>
<path d="M1020.8,659.6L1023.8,649.6"/>
<path d="M1039.4,651.8L1043.8,661.2"/>
<path d="M1051.5,677.5L1055.7,687.1"/>
<path d="M1062.1,703.4L1065.9,713.0"/>
<path d="M1072.1,731.7L1078.1,740.3"/>
<path d="M1092.0,756.0L1102.4,755.6"/>
<path d="M1115.6,737.9L1122.8,730.3"/>
<path d="M1138.6,712.4L1145.6,704.6"/>
<path d="M1152.0,686.7L1155.6,676.9"/>
<path d="M1160.5,660.1L1163.5,650.1"/>
<path d="M1168.3,634.2L1171.9,624.4"/>
<path d="M1178.8,605.9L1184.4,597.1"/>
<path d="M1197.1,579.0L1207.5,577.6"/>
<path d="M1219.8,591.5L1225.6,600.1"/>
<path d="M1227.7,617.9L1235.1,625.3"/>
<path d="M1249.9,623.9L1258.1,630.3"/>
<path d="M1265.9,645.0L1270.3,654.4"/>
<path d="M1275.0,671.1L1277.6,681.1"/>
<path d="M1280.6,697.7L1282.8,707.9"/>
<path d="M1285.3,725.0L1290.7,733.8"/>
<path d="M1302.7,740.5L1310.9,746.7"/>
<path d="M1320.2,758.5L1330.4,756.9"/>
<path d="M1336.7,742.4L1343.9,735.0"/>
<path d="M1355.4,720.5L1365.4,723.1"/>
<path d="M1370.7,742.1L1374.7,751.7"/>
<path d="M1380.1,769.5L1383.3,779.3"/>
<path d="M1396.6,766.5L1406.4,763.1"/>
<path d="M1419.5,759.3L1429.9,760.5"/>
<path d="M1445.4,771.7L1455.2,768.3"/>
<path d="M1461.6,750.8L1466.8,741.8"/>
<path d="M1477.7,733.4L1485.5,740.2"/>
<path d="M1499.0,753.0L1507.8,758.6"/>
<path d="M1523.5,766.6L1533.9,768.0"/>
<path d="M1550.7,763.1L1561.1,762.1"/>
<path d="M1576.0,765.4L1584.8,759.8"/>
<path d="M1589.6,738.3L1600.0,737.9"/>
<path d="M1604.1,756.8L1607.3,766.8"/>
<path d="M1609.9,783.4L1611.9,793.6"/>
<path d="M1615.5,810.6L1617.7,820.8"/>
<path d="M1628.2,813.1L1637.2,818.3"/>
<path d="M1648.2,822.7L1655.2,830.5"/>
<path d="M1666.6,847.5L1676.6,850.3"/>
<path d="M1690.9,838.7L1701.3,839.1"/>
<path d="M1715.3,847.2L1723.1,854.0"/>
<path d="M1737.3,869.9L1747.5,872.1"/>
<path d="M1765.5,865.2L1773.7,858.8"/>
<path d="M1784.1,840.3L1790.5,832.1"/>
<path d="M1807.2,813.7L1814.0,805.9"/>
<path d="M1821.2,788.4L1824.4,778.6"/>
<path d="M1827.3,761.4L1829.5,751.2"/>
<path d="M1833.3,735.0L1835.9,725.0"/>
<path d="M1840.7,708.3L1843.3,698.3"/>
<path d="M1847.1,681.9L1849.3,671.7"/>
<path d="M1852.6,655.1L1854.6,644.9"/>
<path d="M1857.7,628.1L1860.7,618.1"/>
<path d="M1866.9,601.3L1871.5,591.9"/>
<path d="M1882.5,574.7L1887.9,565.9"/>
<path d="M1900.8,559.6L1907.6,567.6"/>
<path d="M1914.8,583.6L1924.8,580.6"/>
<path d="M1925.7,561.5L1928.5,551.5"/>
<path d="M1931.2,534.5L1937.2,525.9"/>
<path d="M1952.6,515.8L1961.8,511.0"/>
<path d="M1978.3,503.6L1988.7,504.2"/>
<path d="M2006.0,512.7L2014.0,519.5"/>
<path d="M2032.7,534.6L2039.9,542.2"/>
<path d="M2053.3,560.9L2059.3,569.3"/>
<path d="M2071.4,588.4L2077.8,596.6"/>
<path d="M2095.0,614.0L2101.0,622.4"/>
<path d="M2108.6,640.7L2114.6,649.1"/>
<path d="M2128.3,663.0L2136.7,669.2"/>
<path d="M2153.6,675.8L2161.0,683.0"/>
<path d="M2167.1,703.3L2177.3,705.5"/>
<path d="M2190.9,687.3L2201.3,688.1"/>
<path d="M2216.8,705.1L2224.8,711.7"/>
<path d="M2238.3,707.6L2248.7,707.0"/>
</g>
<path d="M1542.0,245.6H1547.0V317.5H1542.0Z" fill="#000"/>
<path d="M1536.0,316.0H1553.0L1545.0,350.2H1544.0Z" fill="#000" stroke="#000" stroke-width="3" stroke-linejoin="round"/>
<path d="M1537.7,598H1542.7V669.9H1537.7Z" fill="#000"/>
<path d="M1531.7,668.4H1548.7L1540.7,703.2H1539.7Z" fill="#000" stroke="#000" stroke-width="3" stroke-linejoin="round"/>
<path d="M1537.9,991.9H1542.9V1063.7H1537.9Z" fill="#000"/>
<path d="M1531.9,1062.2H1548.9L1540.9,1096.8H1539.9Z" fill="#000" stroke="#000" stroke-width="3" stroke-linejoin="round"/>
<text x="105.8" y="1480" font-size="73" textLength="138.1" lengthAdjust="spacingAndGlyphs">4000</text>
<text x="365.1" y="1480" font-size="73" textLength="139.0" lengthAdjust="spacingAndGlyphs">3000</text>
<text x="624.1" y="1480" font-size="73" textLength="139.0" lengthAdjust="spacingAndGlyphs">2000</text>
<text x="845.6" y="1480" font-size="73" textLength="139.3" lengthAdjust="spacingAndGlyphs">1800</text>
<text x="1066.5" y="1480" font-size="73" textLength="141.4" lengthAdjust="spacingAndGlyphs">1600</text>
<text x="1288.5" y="1480" font-size="73" textLength="141.5" lengthAdjust="spacingAndGlyphs">1400</text>
<text x="1510.5" y="1480" font-size="73" textLength="141.5" lengthAdjust="spacingAndGlyphs">1200</text>
<text x="1733.8" y="1480" font-size="73" textLength="140.1" lengthAdjust="spacingAndGlyphs">1000</text>
<text x="1975.2" y="1480" font-size="73" textLength="103.5" lengthAdjust="spacingAndGlyphs">800</text>
<text x="2195.8" y="1480" font-size="73" textLength="103.5" lengthAdjust="spacingAndGlyphs">600</text>
<text x="1342.6" y="198" font-size="77" textLength="389.2" lengthAdjust="spacingAndGlyphs">DES-Lignin</text>
<text x="1315.2" y="562" font-size="78" textLength="177.2" lengthAdjust="spacingAndGlyphs">Solid</text>
<text x="1514.8" y="562" font-size="78" textLength="254.3" lengthAdjust="spacingAndGlyphs">residue</text>
<text x="1313.9" y="970.2" font-size="78" textLength="202.3" lengthAdjust="spacingAndGlyphs">Initial</text>
<text x="1534.1" y="970.2" font-size="78" textLength="245.4" lengthAdjust="spacingAndGlyphs">sample</text>
<text x="933.4" y="1599.3" font-size="83" textLength="500.4" lengthAdjust="spacingAndGlyphs">Wavenumbers</text>
<text x="1453.5" y="1597.4" font-size="86.8" textLength="25.9" lengthAdjust="spacingAndGlyphs" font-weight="bold">(</text>
<text x="1480.2" y="1599.3" font-size="83" textLength="102.6" lengthAdjust="spacingAndGlyphs">cm</text>
<text x="1582.5" y="1556.8" font-size="42" textLength="38.9" lengthAdjust="spacingAndGlyphs">-1</text>
<text x="1623.2" y="1597.4" font-size="86.8" textLength="28.4" lengthAdjust="spacingAndGlyphs" font-weight="bold">)</text>
<g transform="translate(88.4,1028.2) rotate(-90)">
<text x="0" y="0" font-size="84" textLength="513.4" lengthAdjust="spacingAndGlyphs">Transmittance</text>
</g>
</svg></body></html>
